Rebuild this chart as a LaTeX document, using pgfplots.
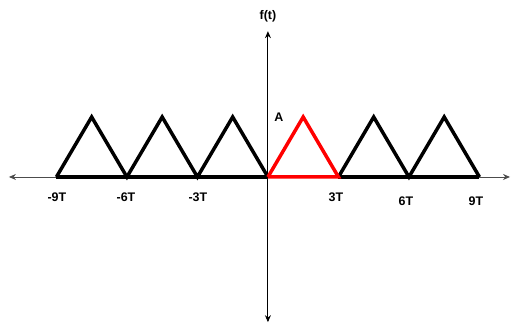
\documentclass[border=0pt]{standalone}
\usepackage{pgfplots}
\pgfplotsset{compat=1.18}
\usepackage{fontspec}
\setmainfont{Liberation Sans}
\usetikzlibrary{arrows.meta}
\tikzset{lbl/.style={font=\fontsize{12.5}{14}\selectfont\bfseries, inner sep=0pt}}
\begin{document}
\begin{tikzpicture}
\begin{axis}[
  scale only axis, width=518bp, height=325bp,
  xmin=-11.40, xmax=10.64, ymin=-2.467, ymax=2.95,
  hide axis, clip=false,
]
\path (rel axis cs:0,0) rectangle (rel axis cs:1,1);
% axes
\draw[gray!60!black, line width=0.9pt, -{Stealth[length=7pt,width=6pt]}] (axis cs:0,0) -- (axis cs:10.3,0);
\draw[gray!60!black, line width=0.9pt, -{Stealth[length=7pt,width=6pt]}] (axis cs:0,0) -- (axis cs:-11.02,0);
\draw[black, line width=0.9pt, -{Stealth[length=7pt,width=6pt]}] (axis cs:0,0) -- (axis cs:0,2.43);
\draw[black, line width=0.9pt, -{Stealth[length=7pt,width=6pt]}] (axis cs:0,0) -- (axis cs:0,-2.42);
% black triangles
\addplot[black, line width=3.5pt, line join=miter] coordinates {(-9,0) (-7.5,1) (-6,0) (-4.5,1) (-3,0) (-1.5,1) (0,0)};
\addplot[black, line width=3.5pt] coordinates {(-9,0) (0,0)};
\addplot[black, line width=3.5pt, line join=miter] coordinates {(3,0) (4.5,1) (6,0) (7.5,1) (9,0)};
\addplot[black, line width=3.5pt] coordinates {(3,0) (9,0)};
% red triangle
\addplot[red, line width=3.5pt, line join=miter] coordinates {(0,0) (1.5,1) (3,0) (0,0)};
% labels
\node[lbl] at (axis cs:-8.98,-0.33) {-9T};
\node[lbl] at (axis cs:-6.04,-0.33) {-6T};
\node[lbl] at (axis cs:-2.98,-0.33) {-3T};
\node[lbl] at (axis cs:2.89,-0.33) {3T};
\node[lbl] at (axis cs:5.87,-0.40) {6T};
\node[lbl] at (axis cs:8.85,-0.40) {9T};
\node[lbl] at (axis cs:0.47,1.0) {A};
\node[lbl] at (axis cs:0,2.68) {f(t)};
\end{axis}
\end{tikzpicture}
\end{document}
